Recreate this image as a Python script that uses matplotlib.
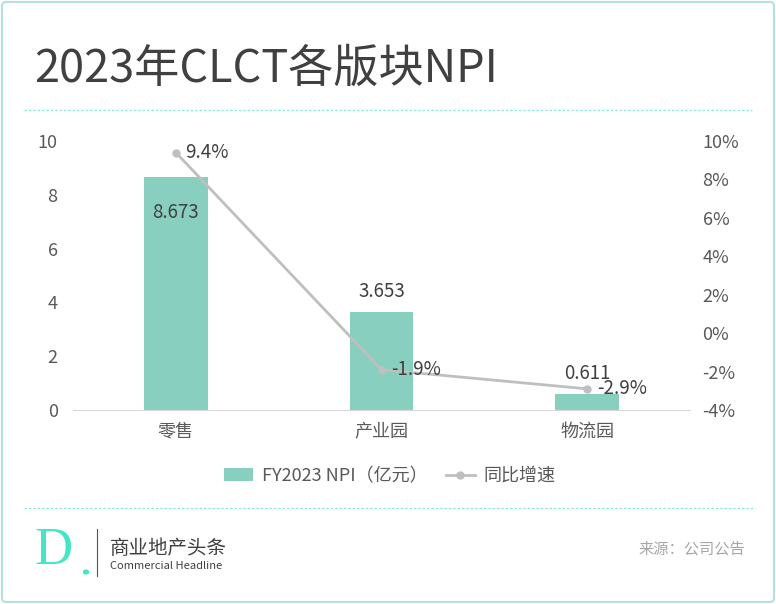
import matplotlib
matplotlib.use("Agg")
import matplotlib.pyplot as plt
from matplotlib.patches import FancyBboxPatch, Circle
from matplotlib.lines import Line2D
from matplotlib.patches import Patch
import numpy as np

plt.rcParams['font.family'] = ['Noto Sans CJK SC', 'DejaVu Sans']

# ---- data ----
categories = ["零售", "产业园", "物流园"]
npi = [8.673, 3.653, 0.611]           # 亿元
growth = [9.4, -1.9, -2.9]            # %
npi_labels = ["8.673", "3.653", "0.611"]
growth_labels = ["9.4%", "-1.9%", "-2.9%"]
left_ticks = [0, 2, 4, 6, 8, 10]
right_ticks = [-4, -2, 0, 2, 4, 6, 8, 10]

BAR_COLOR = "#88cfc0"
LINE_COLOR = "#bfbfbf"
TEXT_DARK = "#404040"
TICK_COLOR = "#595959"
ACCENT = "#45e6c8"

W, H = 776, 604
fig = plt.figure(figsize=(W / 100, H / 100), dpi=100)
fig.patch.set_facecolor("white")

# outer border
border = FancyBboxPatch((2 / W, 2 / H), 1 - 4 / W, 1 - 4 / H,
                        boxstyle="round,pad=0,rounding_size=0.006",
                        transform=fig.transFigure, facecolor="none",
                        edgecolor="#b5e0e2", linewidth=1.5)
fig.patches.append(border)

# title + separators
fig.text(34 / W, 1 - 69 / H, "2023年CLCT各版块NPI", fontsize=32.5,
         color="#404040", va="center", ha="left")
fig.add_artist(Line2D([24 / W, 752 / W], [1 - 110 / H, 1 - 110 / H],
                      transform=fig.transFigure, color="#8ee8d8",
                      linestyle=(0, (2, 1.5)), linewidth=0.9))
fig.add_artist(Line2D([24 / W, 755 / W], [1 - 508 / H, 1 - 508 / H],
                      transform=fig.transFigure, color="#8ee8d8",
                      linestyle=(0, (2, 1.5)), linewidth=0.9))

# ---- chart ----
ax = fig.add_axes([73 / W, 1 - 410 / H, (690 - 73) / W, (410 - 141) / H])
x = np.arange(len(categories))
ax.bar(x, npi, width=0.31, color=BAR_COLOR, zorder=2)
ax.set_xlim(-0.5, len(categories) - 0.5)
ax.set_ylim(0, 10)
ax.set_yticks(left_ticks)
ax.set_yticklabels([str(t) for t in left_ticks])
ax.set_xticks(x)
ax.set_xticklabels(categories)
ax.tick_params(axis="both", length=0, labelsize=13, colors=TICK_COLOR)
ax.tick_params(axis="y", pad=11)
ax.tick_params(axis="x", pad=9)
for s in ["top", "right", "left"]:
    ax.spines[s].set_visible(False)
ax.spines["bottom"].set_color("#d9d9d9")

for i, (v, lab) in enumerate(zip(npi, npi_labels)):
    # first label sits inside the bar top, the others above the bar
    dy = -1.34 if i == 0 else 0.76
    ax.text(i, v + dy, lab, ha="center", va="center",
            fontsize=13.5, color=TEXT_DARK, zorder=4)

ax2 = ax.twinx()
ax2.plot(x, growth, color=LINE_COLOR, linewidth=2, marker="o",
         markersize=5, zorder=3)
ax2.set_ylim(-4, 10)
ax2.set_yticks(right_ticks)
ax2.set_yticklabels([f"{t}%" for t in right_ticks])
ax2.tick_params(axis="y", length=0, labelsize=13, colors=TICK_COLOR, pad=9)
for s in ["top", "right", "left", "bottom"]:
    ax2.spines[s].set_visible(False)

for i, (v, lab) in enumerate(zip(growth, growth_labels)):
    ax2.annotate(lab, (i, v), xytext=(7, 0), textcoords="offset points",
                 ha="left", va="center", fontsize=13.5, color=TEXT_DARK)

# legend
handles = [Patch(facecolor=BAR_COLOR, edgecolor="none"),
           Line2D([], [], color=LINE_COLOR, linewidth=2, marker="o",
                  markersize=5)]
fig.legend(handles, ["FY2023 NPI（亿元）", "同比增速"], loc="center",
           bbox_to_anchor=(390 / W, 1 - 476 / H), ncol=2, frameon=False,
           fontsize=13, labelcolor=TICK_COLOR, handlelength=1.6,
           handletextpad=0.5, columnspacing=1.0)

# ---- footer ----
fig.text(34 / W, 1 - 551 / H, "D", fontsize=38, color=ACCENT,
         family="Liberation Serif", va="center", ha="left")
fig.patches.append(Circle((86 / W, 1 - 572 / H), 2.5 / W,
                          transform=fig.transFigure, color=ACCENT))
fig.add_artist(Line2D([97 / W, 97 / W], [1 - 529 / H, 1 - 576 / H],
                      transform=fig.transFigure, color="#555555",
                      linewidth=0.8))
fig.text(110 / W, 1 - 548 / H, "商业地产头条", fontsize=14,
         color="#404040", va="center", ha="left")
fig.text(110 / W, 1 - 566 / H, "Commercial Headline", fontsize=8,
         color="#404040", va="center", ha="left")
fig.text(745 / W, 1 - 549 / H, "来源：公司公告", fontsize=11,
         color="#a6a6a6", va="center", ha="right")

fig.savefig("out.png", dpi=100)
